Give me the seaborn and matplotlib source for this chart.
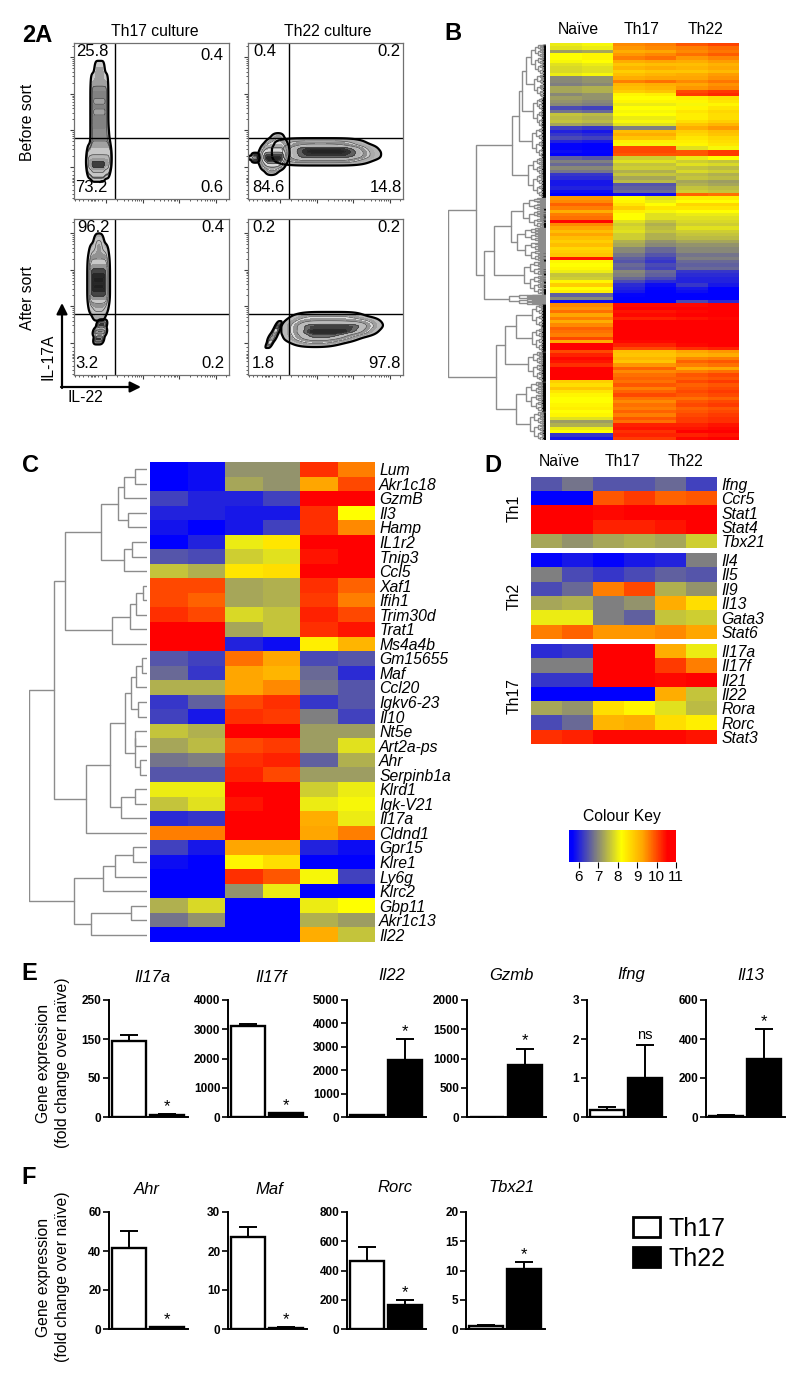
# Figure 2: Th17 / Th22 flow plots, heatmaps and qPCR bars
import numpy as np
import pandas as pd
import matplotlib
matplotlib.use('Agg')
import matplotlib.pyplot as plt
import seaborn as sns
from matplotlib.colors import LinearSegmentedColormap
from matplotlib.patches import Patch

sns.set_style('white')
plt.rcParams['font.family'] = ['Liberation Sans', 'DejaVu Sans']
plt.rcParams['text.color'] = 'black'
plt.rcParams['xtick.color'] = 'black'
plt.rcParams['ytick.color'] = 'black'

# ---- panel A: outline of each flow population, in decades:
# row height, left end, right end and weight of that row
p1_y = [2.7, 2.4, 2.1, 1.8, 1.5, 1.2, .9, .6, .35, .15, 0, -.12]
p1_l = [-.3, -.4, -.4, -.4, -.4, -.4, -.4, -.4, -.48, -.5, -.47, -.38]
p1_r = [-.06, .03, .03, .03, .03, .03, .05, .08, .1, .1, .06, -.06]
p1_w = [.5, .7, 1, 1, 1, 1, 1, 1, 2, 3, 3, 1]
p2a_y = [.8, .65, .5, .35, .2, .05, -.1]
p2a_l = [-.2, -.35, -.45, -.5, -.5, -.45, -.35]
p2a_r = [.05, .12, .15, .15, .12, .05, -.1]
p2a_w = [.5, 1, 2, 3, 3, 2, .5]
p2b_y = [.66, .52, .4, .28, .16]
p2b_l = [.2, .2, .2, .2, .2]
p2b_r = [2.0, 2.25, 2.35, 2.35, 2.1]
p2b_w = [1, 1.5, 1.5, 1.5, 1]
p2c_y = [.32, .25, .18]
p2c_l = [-.74, -.84, -.74]
p2c_r = [-.62, -.6, -.62]
p2c_w = [1, 1, 1]
p3a_y = [2.75, 2.5, 2.25, 2.0, 1.75, 1.5, 1.25, 1.0, .8]
p3a_l = [-.3, -.42, -.45, -.45, -.45, -.45, -.45, -.44, -.35]
p3a_r = [-.1, .02, .04, .04, .04, .04, .04, .02, -.05]
p3a_w = [.6, 1, 1.5, 2, 2, 2, 2, 1, .5]
p3b_y = [.5, .3, .1]
p3b_l = [-.22, -.32, -.3]
p3b_r = [-.02, -.02, -.1]
p3b_w = [1, 1, 1]
p4a_y = [.72, .58, .45, .3, .15, .02]
p4a_l = [.55, .45, .42, .42, .45, .6]
p4a_r = [2.05, 2.4, 2.45, 2.3, 1.85, 1.45]
p4a_w = [1, 2, 3, 3, 2, .7]
p4b_y = [.45, .3, .15, 0]
p4b_l = [-.12, -.2, -.3, -.34]
p4b_r = [-.02, -.05, -.12, -.22]
p4b_w = [1, 1, 1, 1]

flow_blobs = [
    [(p1_y, p1_l, p1_r, p1_w, .2)],
    [(p2b_y, p2b_l, p2b_r, p2b_w, .42), (p2a_y, p2a_l, p2a_r, p2a_w, .38), (p2c_y, p2c_l, p2c_r, p2c_w, .5)],
    [(p3a_y, p3a_l, p3a_r, p3a_w, .3), (p3b_y, p3b_l, p3b_r, p3b_w, .4)],
    [(p4a_y, p4a_l, p4a_r, p4a_w, .42), (p4b_y, p4b_l, p4b_r, p4b_w, .4)],
]
flow_numbers = [
    ['25.8', '0.4', '73.2', '0.6'],
    ['0.4', '0.2', '84.6', '14.8'],
    ['96.2', '0.4', '3.2', '0.2'],
    ['0.2', '0.2', '1.8', '97.8'],
]
major_ticks = [0, 1, 2, 3]
minor_ticks = [-.85, -.75, -.62, -.5, -.42, -.38, -.34, -.3, -.22, -.1,
               .3, .48, .6, .7, .78, .85, .9, .95,
               1.3, 1.48, 1.6, 1.7, 1.78, 1.85, 1.9, 1.95,
               2.3, 2.48, 2.6, 2.7, 2.78, 2.85, 2.9, 2.95,
               3.3]

# ---- panel B: whole-transcriptome heatmap, one value per band from top to bottom
b_naive = [8.0, 7.9, 7.2, 8.2, 8.2, 8.1, 7.9, 7.8, 7.8, 8.0, 7.0, 7.0, 6.9, 7.3, 7.3, 7.0, 7.2, 7.1, 7.0, 6.4,
           6.8, 7.6, 7.5, 7.6, 7.3, 6.3, 6.0, 6.2, 6.4, 6.0, 5.7, 5.7, 5.8, 5.6, 6.6, 6.9, 6.7, 7.0, 6.8, 6.2,
           6.1, 5.9, 5.9, 6.0, 5.8, 5.6,
           9.4, 9.5, 9.8, 9.6, 9.2, 9.6, 9.7, 10.5, 9.5, 9.3, 9.0, 9.3, 9.0, 8.8, 9.0, 8.7, 8.8, 8.9, 10.4, 8.3,
           8.2, 8.3, 8.0, 7.6, 7.7, 8.3, 8.8, 8.2, 8.4, 6.6, 7.0, 5.8,
           9.5, 9.4, 9.7, 9.3, 9.6, 9.2, 9.5, 9.8, 9.7, 9.6, 10.0, 9.2, 10.7, 10.7, 10.0, 10.3, 10.5, 10.4, 10.2, 10.6,
           10.7, 10.7, 10.7, 8.8, 8.6, 8.9, 8.5, 8.3, 8.2, 8.2, 8.3, 8.4, 8.2, 8.3, 7.9, 7.2, 7.4, 8.0, 8.2, 6.2, 5.9]
b_th17 = [9.5, 9.4, 9.2, 9.4, 9.6, 9.2, 8.9, 9.1, 8.8, 9.0, 9.2, 9.6, 9.1, 9.0, 8.8, 8.3, 8.2, 8.3, 8.0, 8.2,
          8.1, 8.2, 8.0, 8.1, 7.9, 6.9, 9.0, 9.2, 8.9, 8.4, 8.1, 10.0, 10.0, 9.9, 7.7, 7.9, 7.6, 7.7, 7.4, 7.6,
          7.3, 7.5, 6.5, 6.6, 6.7, 5.8,
          8.2, 8.3, 8.5, 8.8, 8.4, 8.2, 8.2, 7.9, 7.7, 7.8, 7.9, 7.7, 7.7, 7.4, 7.3, 7.0, 7.0, 6.8, 6.6, 6.5,
          6.7, 6.6, 7.0, 6.9, 6.7, 6.4, 6.1, 6.0, 5.9, 5.7, 5.6, 5.6,
          10.5, 10.6, 10.4, 10.5, 10.3, 10.7, 10.7, 10.7, 10.7, 10.7, 10.7, 10.5, 10.3, 10.0, 9.0, 8.9, 9.1, 8.9, 9.4, 9.8,
          9.5, 9.7, 9.8, 9.7, 9.9, 9.6, 9.8, 10.0, 9.7, 9.5, 9.7, 9.6, 9.8, 9.6, 9.9, 9.7, 10.3, 10.4, 10.2, 10.3, 10.1]
b_th22 = [9.9, 9.6, 9.5, 9.7, 9.4, 9.2, 9.0, 9.1, 8.9, 9.2, 9.3, 9.5, 9.3, 9.4, 10.0, 10.1, 8.4, 8.3, 8.1, 8.3,
          8.5, 8.4, 8.4, 8.6, 8.9, 9.2, 8.8, 8.7, 8.5, 8.4, 8.3, 7.9, 9.9, 9.9, 8.0, 7.7, 7.9, 7.6, 7.8, 7.5,
          7.6, 7.3, 7.4, 7.6, 7.7, 9.8,
          8.4, 8.2, 8.7, 8.5, 8.2, 8.0, 7.9, 7.8, 7.7, 7.9, 7.7, 7.6, 7.5, 7.3, 7.1, 7.0, 7.0, 6.8, 6.9, 6.7,
          6.6, 6.7, 6.2, 6.1, 6.0, 6.0, 6.2, 5.9, 5.8, 5.6, 5.6, 6.4,
          10.5, 10.6, 10.5, 10.6, 10.4, 10.7, 10.7, 10.7, 10.7, 10.7, 10.7, 10.6, 10.5, 10.2, 9.3, 9.1, 9.5, 9.8, 9.6, 9.2,
          9.6, 9.9, 9.8, 10.0, 9.8, 9.9, 10.0, 9.9, 9.7, 9.9, 10.0, 9.8, 9.9, 10.0, 10.1, 10.1, 10.3, 10.4, 10.6, 10.3, 10.5]
# difference between the two replicates of each group, per stretch of bands
b_block_sizes = [16, 19, 11, 26, 6, 41]
b_naive_shift = [.1, -.1, .0, .0, .0, .0]
b_th17_shift = [.1, .0, .0, -.3, -.3, .0]
b_th22_shift = [.15, .2, -.1, .0, -.3, .1]

# ---- panel C
c_genes = ['Lum', 'Akr1c18', 'GzmB', 'Il3', 'Hamp', 'IL1r2', 'Tnip3', 'Ccl5', 'Xaf1', 'Ifih1', 'Trim30d',
           'Trat1', 'Ms4a4b', 'Gm15655', 'Maf', 'Ccl20', 'Igkv6-23', 'Il10', 'Nt5e', 'Art2a-ps', 'Ahr',
           'Serpinb1a', 'Klrd1', 'Igk-V21', 'Il17a', 'Cldnd1', 'Gpr15', 'Klre1', 'Ly6g', 'Klrc2', 'Gbp11',
           'Akr1c13', 'Il22']
c_naive1 = [5.6, 5.6, 6.3, 6.0, 5.85, 5.6, 6.5, 7.6, 10.0, 10.0, 10.2, 10.7, 10.7, 6.5, 6.7, 7.4, 6.2, 6.3, 7.6,
            7.3, 6.8, 6.5, 8.0, 7.6, 6.1, 9.6, 6.3, 5.8, 5.6, 5.6, 7.4, 6.8, 5.6]
c_naive2 = [5.8, 5.8, 6.0, 6.0, 5.6, 6.0, 6.4, 7.4, 10.0, 9.8, 10.0, 10.7, 10.7, 6.3, 6.2, 7.4, 6.6, 5.9, 7.4,
            7.5, 6.9, 6.5, 8.0, 7.9, 6.2, 9.6, 5.9, 5.6, 5.6, 5.6, 7.8, 7.1, 5.6]
c_th17_1 = [7.1, 7.3, 6.0, 5.9, 5.9, 8.0, 7.7, 8.5, 7.3, 7.3, 7.8, 7.3, 6.0, 9.7, 9.3, 9.3, 10.0, 10.2, 10.6,
            10.0, 10.2, 10.3, 10.6, 10.4, 10.7, 10.7, 9.3, 8.3, 10.2, 7.1, 5.6, 5.6, 5.6]
c_th17_2 = [7.1, 7.1, 6.3, 5.9, 6.3, 8.5, 7.9, 8.6, 7.4, 7.4, 7.6, 7.6, 5.8, 9.3, 9.1, 9.5, 10.2, 10.1, 10.6,
            10.1, 10.3, 10.0, 10.7, 10.6, 10.7, 10.7, 9.3, 8.6, 9.9, 8.0, 5.6, 5.6, 5.6]
c_th22_1 = [10.2, 9.3, 10.7, 10.2, 10.2, 10.6, 10.4, 10.6, 10.2, 10.1, 10.3, 10.2, 8.4, 6.4, 6.7, 6.8, 6.2, 6.9,
            7.2, 7.2, 6.6, 7.2, 7.7, 8.0, 9.2, 9.3, 6.0, 5.6, 8.1, 5.6, 8.0, 7.4, 9.2]
c_th22_2 = [9.6, 10.0, 10.7, 8.2, 9.5, 10.7, 10.6, 10.7, 9.8, 9.6, 10.0, 10.4, 9.1, 6.5, 6.1, 6.5, 6.5, 6.3,
            7.2, 7.9, 7.4, 7.2, 8.0, 8.1, 8.0, 9.6, 5.8, 5.6, 6.3, 5.6, 8.2, 7.2, 7.6]
# (height, upper branch, lower branch); integers are rows
c_tree = (118,
          (93,
           (82,
            (46,
             (29, (23, (12, 0, 1), 2), (19, 3, 4)),
             (23, (15, 5, 6), 7)),
            (35, (17, (11, (4, 8, 9), 10), 11), 12)),
           (61,
            (37,
             (22,
              (16, (11, (5, 13, 14), 15), (9, 16, 17)),
              (12, (12, 18, 19), (7, 20, 21))),
             (26, (12, 22, 23), 24)),
            25)),
          (73,
           (44, (32, (14, 26, 27), 28), 29),
           (56, (16, 30, 31), 32)))

# ---- panel D
d1_genes = ['Ifng', 'Ccr5', 'Stat1', 'Stat4', 'Tbx21']
d1_values = [[6.5, 6.8, 6.5, 6.5, 6.7, 6.3],
             [5.6, 5.6, 9.9, 10.1, 9.8, 9.9],
             [10.7, 10.7, 10.5, 10.7, 10.6, 10.7],
             [10.7, 10.7, 10.3, 10.3, 10.4, 10.7],
             [7.3, 7.1, 7.3, 7.4, 7.3, 7.7]]
d2_genes = ['Il4', 'Il5', 'Il9', 'Il13', 'Gata3', 'Stat6']
d2_values = [[5.7, 5.9, 5.7, 5.9, 6.0, 6.9],
             [6.9, 6.4, 6.2, 6.4, 6.6, 6.5],
             [6.4, 6.7, 9.6, 10.0, 7.4, 7.1],
             [7.3, 7.4, 6.9, 7.1, 9.2, 8.6],
             [8.0, 8.0, 6.9, 6.6, 7.6, 7.7],
             [9.6, 9.8, 9.4, 9.4, 9.5, 9.3]]
d3_genes = ['Il17a', 'Il17f', 'Il21', 'Il22', 'Rora', 'Rorc', 'Stat3']
d3_values = [[6.1, 6.2, 10.7, 10.7, 9.2, 8.0],
             [6.9, 6.9, 10.7, 10.7, 10.1, 9.6],
             [6.2, 6.2, 10.7, 10.7, 10.5, 10.7],
             [5.6, 5.6, 5.6, 5.6, 9.2, 7.6],
             [7.3, 7.1, 8.6, 8.3, 7.9, 7.5],
             [6.4, 6.7, 9.1, 9.2, 8.6, 8.4],
             [10.2, 10.3, 10.5, 10.5, 10.5, 10.4]]
key_ticks = [6, 7, 8, 9, 10, 11]

# ---- panels E and F: mean, upper error limit, y ticks, significance mark
bar_groups = ['Th17', 'Th22']
e_genes = ['Il17a', 'Il17f', 'Il22', 'Gzmb', 'Ifng', 'Il13']
e_th17 = [145, 3110, 80, 0, .17, 6]
e_th22 = [3, 120, 2430, 890, 1.0, 300]
e_th17_top = [160, 3170, 100, 0, .26, 10]
e_th22_top = [4, 140, 3330, 1170, 1.85, 450]
e_yticks = [[0, 50, 150, 250], [0, 1000, 2000, 3000, 4000], [0, 1000, 2000, 3000, 4000, 5000],
            [0, 500, 1000, 1500, 2000], [0, 1, 2, 3], [0, 200, 400, 600]]
e_marks = ['*', '*', '*', '*', 'ns', '*']
f_genes = ['Ahr', 'Maf', 'Rorc', 'Tbx21']
f_th17 = [41.5, 23.5, 465, .5]
f_th22 = [.8, .3, 165, 10.2]
f_th17_top = [50.5, 26.2, 560, .65]
f_th22_top = [1.2, .5, 200, 11.4]
f_yticks = [[0, 20, 40, 60], [0, 10, 20, 30], [0, 200, 400, 600, 800], [0, 5, 10, 15, 20]]
f_marks = ['*', '*', '*', '*']

# ---- figure
fig = plt.figure(figsize=(8, 13.8), dpi=100)


def px_axes(x0, y0, x1, y1, **kw):
    return fig.add_axes([x0 / 800, 1 - y1 / 1380, (x1 - x0) / 800, (y1 - y0) / 1380], **kw)


heat_cmap = LinearSegmentedColormap.from_list(
    'key', [(0, (0, 0, 1)), (.03, (0, 0, 1)), (.255, (.5, .5, .5)), (.49, (1, 1, 0)),
            (.69, (1, .65, 0)), (.92, (1, 0, 0)), (1, (1, 0, 0))])
heat_range = dict(vmin=5.5, vmax=11, cmap=heat_cmap)
flow_cmap = LinearSegmentedColormap.from_list('flow', ['#e8e8e8', '#808080', '#e4e4e4', '#8c8c8c', '#dcdcdc', '#202020'])
flow_levels = [.03, .1, .18, .28, .4, .52, .66, .8, .92, 1.0]


def draw_flow(ax, blobs):
    for rows_y, rows_l, rows_r, rows_w, band in blobs:
        # spread each outline row into points for the density estimate
        px = np.concatenate([np.linspace(a, b, 13) for a, b in zip(rows_l, rows_r)])
        py = np.repeat(rows_y, 13)
        pw = np.repeat(rows_w, 13)
        sns.kdeplot(x=px, y=py, weights=pw, bw_method=band, levels=flow_levels, fill=True,
                    cmap=flow_cmap, gridsize=200, cut=3, ax=ax)
        sns.kdeplot(x=px, y=py, weights=pw, bw_method=band, levels=flow_levels[2:-1:2], colors='#303030',
                    linewidths=.4, gridsize=200, cut=3, ax=ax)
        sns.kdeplot(x=px, y=py, weights=pw, bw_method=band, levels=[.03], colors='k',
                    linewidths=1.6, gridsize=200, cut=3, ax=ax)
    ax.axvline(.25, color='k', lw=1)
    ax.axhline(.8, color='k', lw=1)
    ax.set_xlim(-.88, 3.37)
    ax.set_ylim(-.88, 3.39)
    ax.set_xlabel('')
    ax.set_ylabel('')
    ax.set_xticks(major_ticks, labels=[])
    ax.set_yticks(major_ticks, labels=[])
    ax.set_xticks(minor_ticks, minor=True)
    ax.set_yticks(minor_ticks, minor=True)
    ax.tick_params(which='major', length=3, width=.8, color='#404040', bottom=True, left=True)
    ax.tick_params(which='minor', length=1.5, width=.6, color='#404040', bottom=True, left=True)
    for sp in ax.spines.values():
        sp.set_color('#707070')
        sp.set_linewidth(.9)


flow_boxes = [(74, 43, 229, 199), (248, 43, 403, 199), (74, 219, 229, 375), (248, 219, 403, 375)]
for box, blobs in zip(flow_boxes, flow_blobs):
    draw_flow(px_axes(*box), blobs)


def draw_tree(ax, node):
    # returns the row position of a node
    if isinstance(node, (int, float)):
        return node + .5, 0
    h, upper, lower = node
    y0, h0 = draw_tree(ax, upper)
    y1, h1 = draw_tree(ax, lower)
    ax.plot([h0, h, h, h1], [y0, y0, y1, y1], color='black' if h < 4 else '#8c8c8c', lw=1, solid_joinstyle='miter')
    return (y0 + y1) / 2, h


def comb(h, start, end):
    if end - start <= .15:
        return start
    mid = start + (end - start) * .42
    return (h, comb(h * .72, start, mid), comb(h * .72, mid, end))


# ---- B
b_sizes = np.repeat(np.arange(len(b_block_sizes)), b_block_sizes)
b_matrix = np.column_stack([
    b_naive, np.array(b_naive) + np.take(b_naive_shift, b_sizes),
    b_th17, np.array(b_th17) + np.take(b_th17_shift, b_sizes),
    b_th22, np.array(b_th22) + np.take(b_th22_shift, b_sizes)])
ax = px_axes(550, 43, 739, 440)
sns.heatmap(pd.DataFrame(b_matrix), cbar=False, xticklabels=False, yticklabels=False, ax=ax, **heat_range)

b_tree = (97,
          (69,
           (34,
            (27,
             (24, (20, comb(15, 0, 9), comb(12, 9, 16)), comb(13, 16, 25)),
             comb(14, 25, 34)),
            comb(18, 34, 46)),
           (61,
            (51,
             (35, comb(23, 46, 55), comb(29, 55, 65)),
             comb(22, 65, 75)),
            comb(37, 75, 78))),
          (49,
           (41,
            (30, comb(14, 78, 85), comb(14, 85, 92)),
            comb(18, 92, 101)),
           (30, comb(20, 101, 110), comb(16, 110, 119))))
ax = px_axes(448, 43, 546, 440)
draw_tree(ax, b_tree)
ax.set_xlim(97, 0)
ax.set_ylim(119, 0)
ax.axis('off')

# ---- C
c_matrix = pd.DataFrame({'n1': c_naive1, 'n2': c_naive2, 'a1': c_th17_1, 'a2': c_th17_2,
                         'b1': c_th22_1, 'b2': c_th22_2}, index=c_genes)


def gene_heatmap(ax, frame, **kw):
    sns.heatmap(frame, xticklabels=False, yticklabels=True, ax=ax, **heat_range, **kw)
    ax.yaxis.tick_right()
    ax.tick_params(axis='y', length=0, pad=3, labelrotation=0, labelright=True, labelleft=False)
    ax.set_xlabel('')
    ax.set_ylabel('')
    for label in ax.get_yticklabels():
        label.set_fontstyle('italic')
        label.set_fontsize(11.3)
        label.set_color('black')


ax = px_axes(150, 462, 375, 942)
gene_heatmap(ax, c_matrix, cbar=False)
ax = px_axes(29, 462, 147, 942)
draw_tree(ax, c_tree)
ax.set_xlim(118, 0)
ax.set_ylim(33, 0)
ax.axis('off')

# ---- D, the last block also feeds the colour key
ax = px_axes(531, 477, 717, 548)
gene_heatmap(ax, pd.DataFrame(d1_values, index=d1_genes), cbar=False)
ax = px_axes(531, 553, 717, 639)
gene_heatmap(ax, pd.DataFrame(d2_values, index=d2_genes), cbar=False)
ax = px_axes(531, 644, 717, 744)
key_ax = px_axes(569, 830, 676, 862)
gene_heatmap(ax, pd.DataFrame(d3_values, index=d3_genes), cbar=True, cbar_ax=key_ax,
             cbar_kws={'orientation': 'horizontal', 'ticks': key_ticks})
key_ax.tick_params(axis='x', length=4, width=.8, labelsize=11, pad=2, bottom=True)
ax.collections[0].colorbar.outline.set_edgecolor('#8080c0')


# ---- E / F
def draw_bars(x_left, y_top, gene, low, high, low_top, high_top, ticks, mark):
    ax = px_axes(x_left, y_top, x_left + 79, y_top + 117)
    frame = pd.DataFrame({'group': bar_groups, 'value': [low, high]})
    if gene == 'Il17a':
        # this axis is broken: 0-50 takes as much room as 50-150
        pos = [0, 1, 2, 3]
        ax.set_yscale('function', functions=(lambda v: np.interp(v, ticks, pos, left=-1, right=4),
                                             lambda p: np.interp(p, pos, ticks)))
    sns.barplot(data=frame, x='group', y='value', hue='group', palette=['white', 'black'], saturation=1,
                edgecolor='black', linewidth=1.7, width=.9, legend=False, ax=ax)
    ax.errorbar([0, 1], [low, high], yerr=[[0, 0], [low_top - low, high_top - high]], fmt='none',
                ecolor='black', elinewidth=1.4, capsize=6.5, capthick=1.4, clip_on=False)
    ax.set_xlim(-.54, 1.57)
    ax.set_ylim(0, ticks[-1])
    ax.set_yticks(ticks)
    ax.set_xticks([])
    ax.set_xlabel('')
    ax.set_ylabel('')
    ax.tick_params(axis='y', left=True, length=4, width=1.2, pad=1.5)
    for label in ax.get_yticklabels():
        label.set_fontweight('bold')
        label.set_fontsize(8.5)
    sns.despine(ax=ax)
    ax.spines['left'].set_linewidth(1.4)
    ax.spines['bottom'].set_linewidth(1.4)
    ax.spines['left'].set_color('black')
    ax.spines['bottom'].set_color('black')
    if mark == '*':
        ax.annotate('*', (1, high_top), xytext=(0, 0), textcoords='offset points', ha='center', va='bottom',
                    fontsize=12, annotation_clip=False)
    else:
        ax.annotate(mark, (1, high_top), xytext=(0, 2), textcoords='offset points', ha='center', va='bottom',
                    fontsize=10.5, annotation_clip=False)


e_left = [109, 228, 347, 467, 587, 706]
e_title_x = [152, 271, 392, 511, 631, 751]
e_title_y = [978, 978, 975, 975, 975, 975]
for i, gene in enumerate(e_genes):
    draw_bars(e_left[i], 1000, gene, e_th17[i], e_th22[i], e_th17_top[i], e_th22_top[i], e_yticks[i], e_marks[i])
f_left = [109, 228, 347, 466]
f_title_x = [147, 269, 395, 512]
f_title_y = [1190, 1190, 1187, 1187]
for i, gene in enumerate(f_genes):
    draw_bars(f_left[i], 1212, gene, f_th17[i], f_th22[i], f_th17_top[i], f_th22_top[i], f_yticks[i], f_marks[i])

fig.legend(handles=[Patch(facecolor='white', edgecolor='black', linewidth=2, label=bar_groups[0]),
                    Patch(facecolor='black', edgecolor='black', linewidth=2, label=bar_groups[1])],
           loc='upper left', bbox_to_anchor=(625 / 800, 1 - 1209 / 1380), frameon=False, fontsize=18,
           handlelength=1.1, handleheight=.85, handletextpad=.35, labelspacing=.25, borderpad=.3, borderaxespad=0)

# ---- all free text sits on one transparent layer in pixel coordinates
over = px_axes(0, 0, 800, 1380, facecolor='none', zorder=10)
over.set_xlim(0, 800)
over.set_ylim(1380, 0)
over.axis('off')


def put(x, y, s, size=11.3, **kw):
    kw.setdefault('ha', 'center')
    kw.setdefault('va', 'center')
    over.text(x, y, s, fontsize=size, **kw)


for x, y, s in [(22, 35, '2A'), (444, 34, 'B'), (22, 466, 'C'), (484, 466, 'D'), (21, 973, 'E'), (21, 1178, 'F')]:
    put(x, y, s, size=17, fontweight='bold', ha='left')
put(155, 31, 'Th17 culture')
put(328, 32, 'Th22 culture')
put(28, 122, 'Before sort', rotation=90)
put(28, 298, 'After sort', rotation=90)
put(48, 357, 'IL-17A', rotation=90)
put(85, 398, 'IL-22')

number_spots = [[(92, 52), (212, 55), (91, 188), (212, 188)],
                [(265, 52), (389, 52), (268, 188), (386, 188)],
                [(94, 228), (213, 228), (87, 364), (213, 364)],
                [(264, 228), (389, 228), (263, 364), (384, 364)]]
for spots, numbers in zip(number_spots, flow_numbers):
    for (x, y), s in zip(spots, numbers):
        put(x, y, s, size=12)

arrow = dict(arrowstyle='-|>', color='black', lw=1.6, mutation_scale=16, shrinkA=0, shrinkB=0)
over.annotate('', xy=(62, 303), xytext=(62, 388), arrowprops=arrow)
over.annotate('', xy=(141, 387), xytext=(61, 387), arrowprops=arrow)

for x, s in [(578, 'Naïve'), (642, 'Th17'), (705, 'Th22')]:
    put(x, 30, s)
for x, s in [(559, 'Naïve'), (623, 'Th17'), (686, 'Th22')]:
    put(x, 462, s)
for y, s in [(508, 'Th1'), (596, 'Th2'), (696, 'Th17')]:
    put(514, y, s, rotation=90)
put(622, 817, 'Colour Key')

for x, y, gene in zip(e_title_x, e_title_y, e_genes):
    put(x, y, gene, size=12, fontstyle='italic')
for x, y, gene in zip(f_title_x, f_title_y, f_genes):
    put(x, y, gene, size=12, fontstyle='italic')
for y in (1063, 1277):
    put(53, y, 'Gene expression\n(fold change over naïve)', rotation=90, linespacing=1.3)

plt.savefig('out.png', dpi=100)
